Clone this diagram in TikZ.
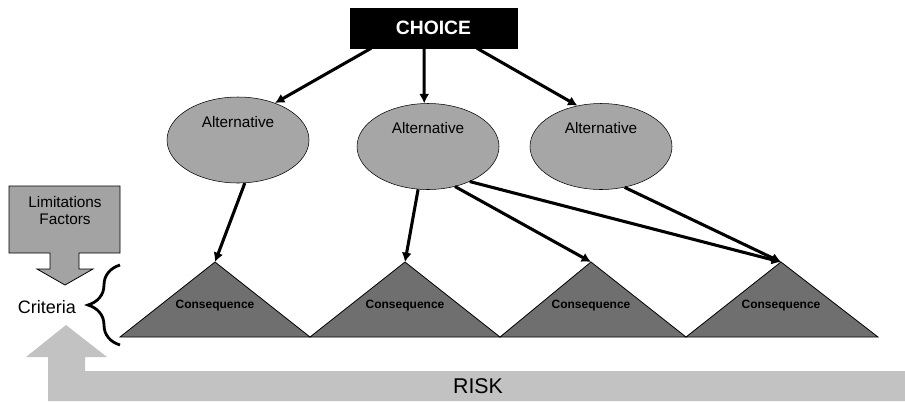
\documentclass[tikz,border=0pt]{standalone}
\usepackage{fontspec}
\setmainfont{Liberation Sans}
\usetikzlibrary{shapes.geometric,arrows.meta,decorations.pathreplacing}
\definecolor{altgray}{HTML}{A6A6A6}
\definecolor{congray}{HTML}{6F6F6F}
\definecolor{limgray}{HTML}{A3A3A3}
\definecolor{riskgray}{HTML}{C2C2C2}
\begin{document}
\begin{tikzpicture}[x=0.75pt,y=-0.75pt,font=\fontsize{11.5}{13}\selectfont]
 \tikzset{directed/.style={-{Latex[length=7pt,width=7.5pt]}, line width=2.3pt}}
 \tikzset{alt/.style={draw, ellipse, fill=altgray, minimum width=106.5pt, minimum height=64.5pt, inner sep=0pt}}
 \tikzset{conseq/.style={draw, fill=congray, line width=0.6pt}}
 \tikzset{conseqtext/.style={font=\fontsize{9}{10}\selectfont\bfseries}}
 \useasboundingbox (0,0) rectangle (905,401);
  \fill[riskgray] (905,371) -- (85,371) -- (85,357) -- (107,357) -- (66,325) -- (26,357) -- (48,357) -- (48,401) -- (905,401) -- cycle;
  \node[font=\fontsize{16}{18}\selectfont] (RK) at (478,386) {RISK};
  \node[draw, fill=black, minimum width=125pt, minimum height=30pt, text=white, font=\fontsize{14.5}{16}\selectfont\bfseries] (CH) at (433.5,28) {CHOICE};
  \node[alt, label={[yshift=13.5pt]center:Alternative}] (A1) at (238,140) {};
  \node[alt, label={[yshift=13.5pt]center:Alternative}] (A2) at (428,146.5) {};
  \node[alt, label={[yshift=13.5pt]center:Alternative}] (A3) at (601,146.5) {};
  \coordinate (K1) at (215,262);
  \coordinate (K2) at (405,262);
  \coordinate (K3) at (591,262);
  \coordinate (K4) at (781,262);
  \draw[conseq] (120,337) -- (K1) -- (310,337) -- cycle;
  \draw[conseq] (310,337) -- (K2) -- (500,337) -- cycle;
  \draw[conseq] (500,337) -- (K3) -- (686,337) -- cycle;
  \draw[conseq] (686,337) -- (K4) -- (878,337) -- cycle;
  \node[conseqtext] (Q1) at (215,306) {Consequence};
  \node[conseqtext] (Q2) at (405,306) {Consequence};
  \node[conseqtext] (Q3) at (591,306) {Consequence};
  \node[conseqtext] (Q4) at (781,306) {Consequence};
  \draw[fill=limgray, line width=0.6pt] (9,186) -- (120,186) -- (120,253) -- (79,253) -- (79,269) -- (93,269) -- (65,285) -- (37,269) -- (50,269) -- (50,253) -- (9,253) -- cycle;
  \node[align=center] (LF) at (65,210.5) {Limitations\\Factors};
  \node[font=\fontsize{13.5}{15}\selectfont] (CR) at (47,307) {Criteria};
  \draw[line width=2.1pt, decorate, decoration={brace, amplitude=24pt}] (120,345) -- (120,265);
  \draw[directed] (CH.198) -- (A1.45);
  \draw[directed] (CH.245) -- (A2.95);
  \draw[directed] (CH.335) -- (A3.120);
  \draw[directed] (A1.279) -- (K1);
  \draw[directed] (A2.257) -- (K2);
  \draw[directed] (A2.304) -- (K3);
  \draw[directed] (A2.320) -- (K4);
  \draw[directed] (A3.300) -- (K4);
\end{tikzpicture}
\end{document}
